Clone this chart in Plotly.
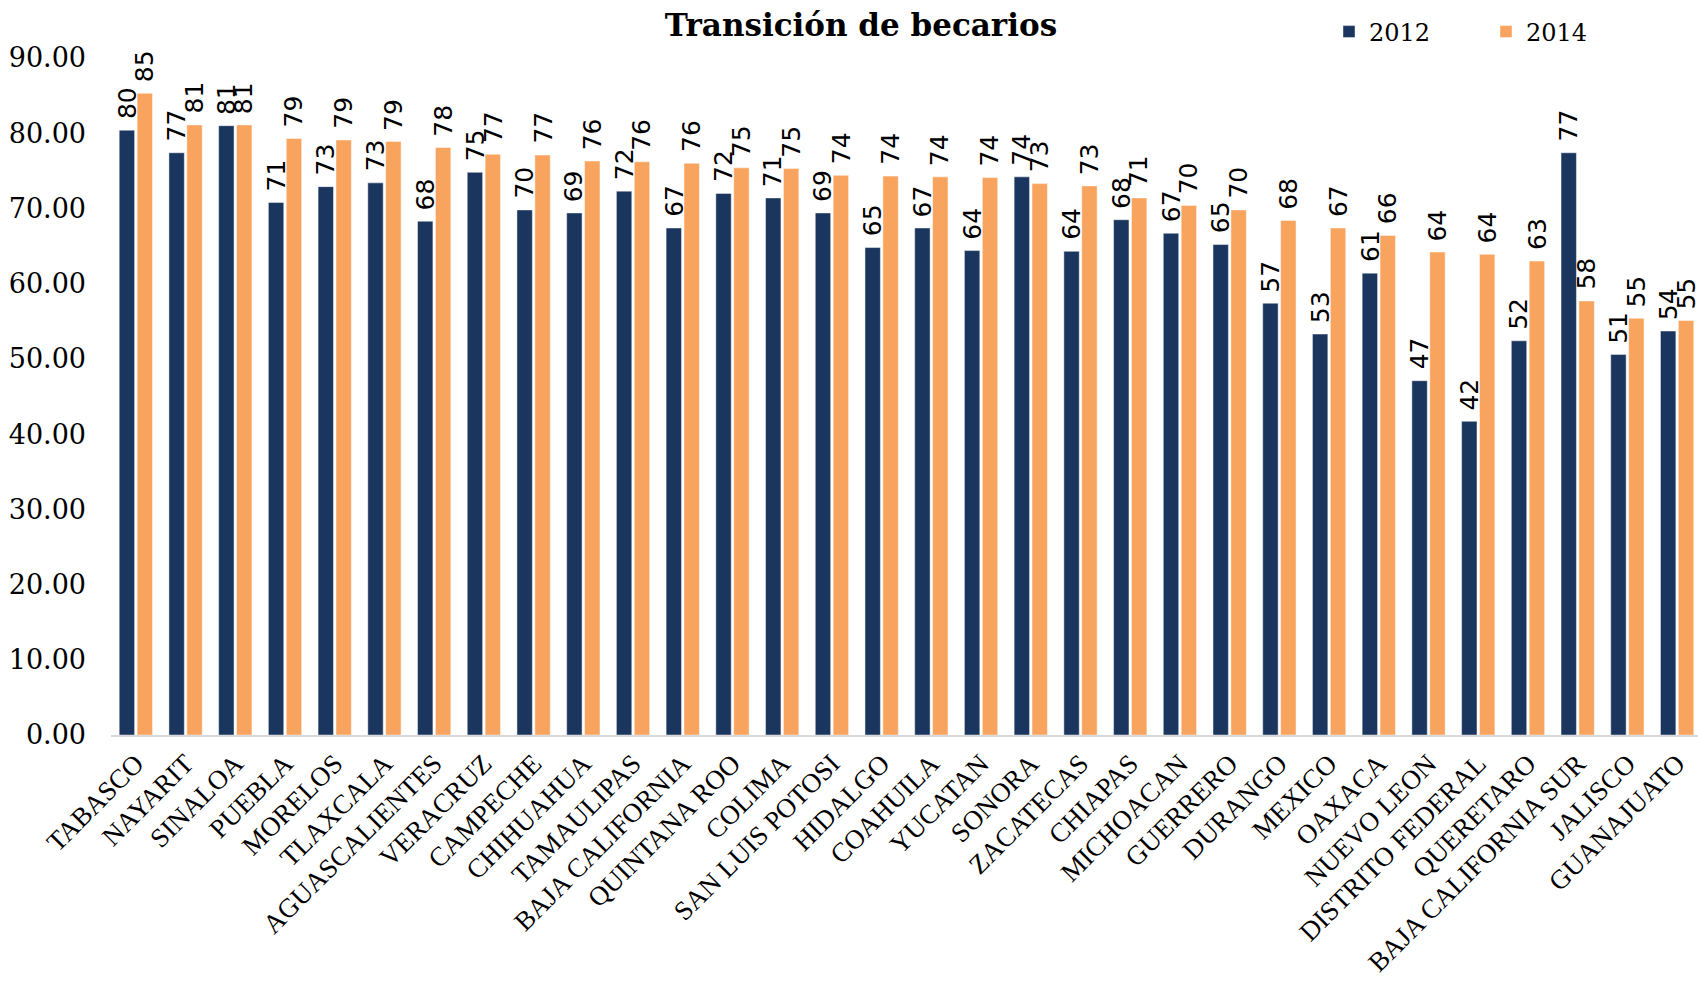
import plotly.graph_objects as go

states = ["TABASCO", "NAYARIT", "SINALOA", "PUEBLA", "MORELOS", "TLAXCALA",
          "AGUASCALIENTES", "VERACRUZ", "CAMPECHE", "CHIHUAHUA", "TAMAULIPAS",
          "BAJA CALIFORNIA", "QUINTANA ROO", "COLIMA", "SAN LUIS POTOSI", "HIDALGO",
          "COAHUILA", "YUCATAN", "SONORA", "ZACATECAS", "CHIAPAS", "MICHOACAN",
          "GUERRERO", "DURANGO", "MEXICO", "OAXACA", "NUEVO LEON", "DISTRITO FEDERAL",
          "QUERETARO", "BAJA CALIFORNIA SUR", "JALISCO", "GUANAJUATO"]

v2012 = [80.4, 77.4, 81.0, 70.8, 72.9, 73.4, 68.3, 74.8, 69.8, 69.4, 72.3,
         67.4, 72.0, 71.4, 69.4, 64.8, 67.4, 64.4, 74.2, 64.3, 68.5, 66.7,
         65.2, 57.4, 53.3, 61.4, 47.1, 41.7, 52.4, 77.4, 50.6, 53.7]

v2014 = [85.3, 81.1, 81.1, 79.3, 79.1, 78.9, 78.1, 77.2, 77.1, 76.3, 76.2,
         76.0, 75.4, 75.3, 74.4, 74.3, 74.2, 74.1, 73.3, 73.0, 71.4, 70.4,
         69.8, 68.4, 67.4, 66.4, 64.2, 63.9, 63.0, 57.7, 55.4, 55.1]

series = [("2012", v2012, "#1b365e"), ("2014", v2014, "#f8a45e")]

W, H = 1698, 994
ML, MR, MT, MB = 111, 0, 58, 259
x_min, x_max = -0.5, 31.42
bargap, bargroupgap = 0.28, 0.14

fig = go.Figure()
for name, vals, color in series:
    fig.add_trace(go.Bar(
        x=states, y=vals, name=name,
        marker=dict(color=color, line=dict(color="rgba(255,255,255,0.45)", width=1)),
    ))

# data labels above each bar (rotated)
px_per_cat = (W - ML - MR) / (x_max - x_min)
slot = (1 - bargap) * px_per_cat / 2
for i, (name, vals, color) in enumerate(series):
    off = (i - 0.5) * slot
    for s, v in zip(states, vals):
        fig.add_annotation(
            x=s, y=v, text=f"{v:.0f}", showarrow=False,
            textangle=-90, xanchor="center", yanchor="bottom",
            xshift=off, yshift=9,
            font=dict(family="DejaVu Sans", size=25, color="#000000"),
        )

fig.update_layout(
    width=W, height=H,
    margin=dict(l=ML, r=MR, t=MT, b=MB, autoexpand=False),
    paper_bgcolor="white", plot_bgcolor="white",
    barmode="group", bargap=bargap, bargroupgap=bargroupgap,
    title=dict(text="<b>Transición de becarios</b>", x=0.507, xanchor="center",
               y=1 - 25 / H, yanchor="middle",
               font=dict(family="DejaVu Serif", size=31, color="#000000")),
    legend=dict(orientation="h", x=(1329 - ML) / (W - ML - MR),
                xanchor="left", y=1 + (MT - 32) / (H - MT - MB), yanchor="middle",
                font=dict(family="DejaVu Serif", size=24, color="#000000"),
                itemwidth=30, entrywidth=112, entrywidthmode="pixels",
                bgcolor="rgba(0,0,0,0)", borderwidth=0),
    showlegend=True,
)
fig.update_xaxes(range=[x_min, x_max], tickangle=-45, showline=True,
                 linecolor="#d9d9d9", linewidth=2, ticks="", showgrid=False,
                 tickfont=dict(family="Liberation Serif", size=27, color="#000000"))
fig.update_yaxes(range=[0, 90], dtick=10, tickformat=".2f", showgrid=False,
                 zeroline=False, showline=False, ticks="", ticklabelstandoff=24,
                 tickfont=dict(family="DejaVu Serif", size=27, color="#000000"))

fig.write_html("out.html", config={"displayModeBar": False},
               post_script="document.body.style.margin='0';document.body.style.overflow='hidden';")
